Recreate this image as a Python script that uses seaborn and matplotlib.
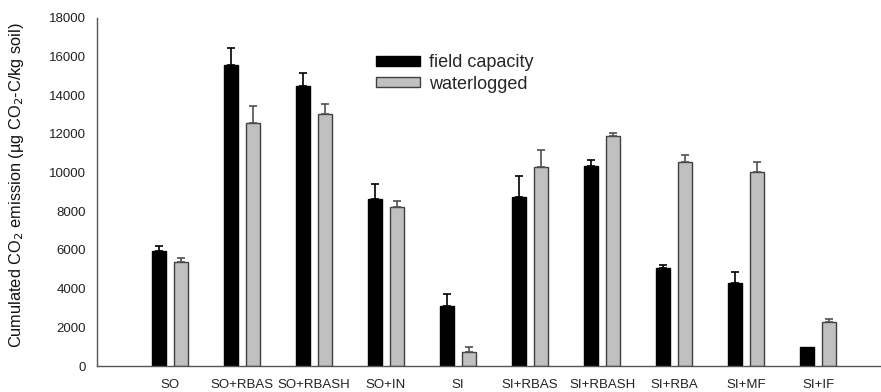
import numpy as np
import pandas as pd
import matplotlib
matplotlib.use("Agg")
import matplotlib.pyplot as plt
import seaborn as sns
from matplotlib.patches import Patch

categories = ["SO", "SO+RBAS", "SO+RBASH", "SO+IN", "SI", "SI+RBAS",
              "SI+RBASH", "SI+RBA", "SI+MF", "SI+IF"]
series_names = ["field capacity", "waterlogged"]
field_capacity = [5930, 15590, 14500, 8620, 3100, 8760, 10360, 5050, 4280, 1000]
field_capacity_err = [250, 840, 660, 780, 640, 1050, 300, 190, 600, 0]
waterlogged = [5365, 12590, 13020, 8210, 720, 10310, 11900, 10530, 10050, 2290]
waterlogged_err = [200, 830, 520, 340, 280, 860, 170, 400, 520, 140]
y_ticks = list(range(0, 18001, 2000))

df = pd.DataFrame({
    "category": categories * 2,
    "series": [series_names[0]] * len(categories) + [series_names[1]] * len(categories),
    "value": field_capacity + waterlogged,
    "err": field_capacity_err + waterlogged_err,
})

sns.set_style("white")
plt.rcParams["font.family"] = ["Liberation Sans", "DejaVu Sans"]

fig = plt.figure(figsize=(8.81, 3.92), dpi=100)
ax = fig.add_axes([0.110, 0.0663, 0.890, 0.888])

palette = {series_names[0]: "#000000", series_names[1]: "#C0C0C0"}
sns.barplot(data=df, x="category", y="value", hue="series", order=categories,
            hue_order=series_names, palette=palette, width=0.61, gap=0.36,
            errorbar=None, saturation=1, ax=ax, legend=False)

edge_cols = ["#000000", "#404040"]
err_cols = ["#000000", "#505050"]
ncat = len(categories)
for i, patch in enumerate(ax.patches[: 2 * ncat]):
    s = i // ncat
    patch.set_edgecolor(edge_cols[s])
    patch.set_linewidth(1.0)
    x = patch.get_x() + patch.get_width() / 2
    h = patch.get_height()
    errs = field_capacity_err if s == 0 else waterlogged_err
    e = errs[i % ncat]
    if e > 0:
        ax.errorbar([x], [h], yerr=[[0], [e]], fmt="none", ecolor=err_cols[s],
                    elinewidth=1.2, capsize=3, capthick=1.2)

ax.set_ylim(0, 18000)
ax.set_xlim(-1.01, 9.87)
ax.set_yticks(y_ticks)
ax.set_yticklabels([str(t) for t in y_ticks])
ax.tick_params(axis="both", direction="out", length=5, width=1, colors="#555555",
               labelcolor="#222222", labelsize=9.5, pad=3)
ax.tick_params(axis="x", pad=4)
ax.set_xlabel("")
ax.set_ylabel("Cumulated CO$_2$ emission (µg CO$_2$-C/kg soil)", fontsize=11.8,
              color="#111111")
ax.yaxis.set_label_coords(-0.090, 0.52)
for side in ["top", "right"]:
    ax.spines[side].set_visible(False)
for side in ["left", "bottom"]:
    ax.spines[side].set_color("#555555")
    ax.spines[side].set_linewidth(1.0)

handles = [Patch(facecolor="#000000", edgecolor="#000000"),
           Patch(facecolor="#C0C0C0", edgecolor="#404040")]
fig.legend(handles, series_names, loc="upper left", bbox_to_anchor=(0.427, 0.862),
           frameon=False, fontsize=13, handlelength=2.4, handleheight=0.5,
           handletextpad=0.55, labelspacing=0.25, borderaxespad=0, borderpad=0)

fig.savefig("out.png", dpi=100)
